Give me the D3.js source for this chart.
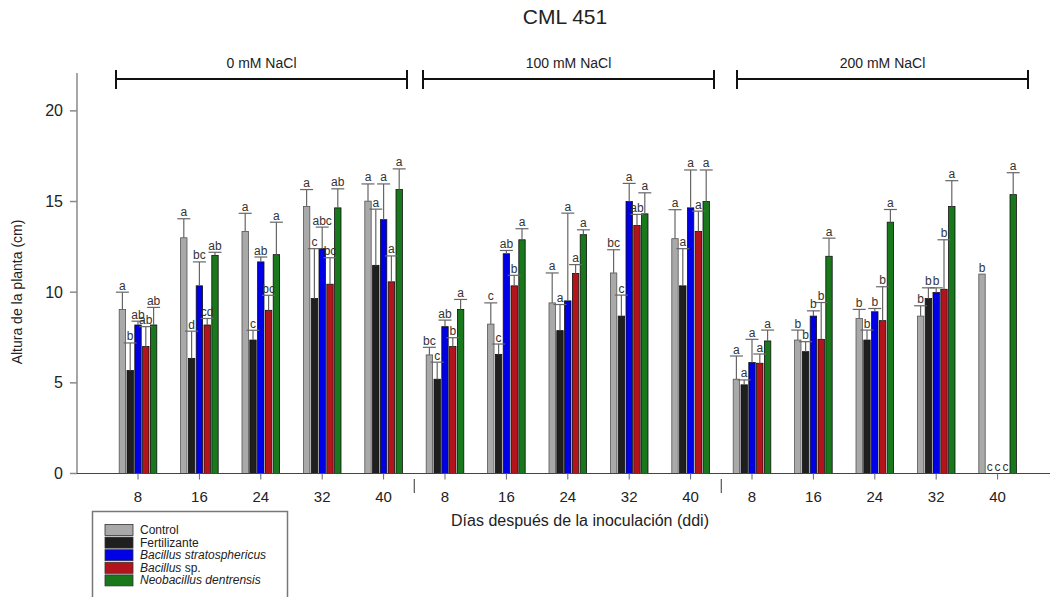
<!DOCTYPE html>
<html>
<head>
<meta charset="utf-8">
<script src="https://cdn.jsdelivr.net/npm/d3@7"></script>
<style>
  body { margin: 0; background: #fff; }
  svg { font-family: "Liberation Sans", Arial, sans-serif; }
</style>
</head>
<body>
<svg id="chart" width="1050" height="597"></svg>
<script>
// [A] Datos ------------------------------------------------------------------
const days = [8, 16, 24, 32, 40];
const salts = ["0 mM NaCl", "100 mM NaCl", "200 mM NaCl"];
const seriesNames = ["Control", "Fertilizante", "Bacillus stratosphericus", "Bacillus sp.", "Neobacillus dentrensis"];
const seriesColors = ["#a9a9a9", "#1f1f1f", "#0000e6", "#b3141b", "#18781b"];

// medias por tratamiento (0 mM x5, 100 mM x5, 200 mM x5)
const control      = [9.05, 13.0, 13.35, 14.73, 15.02,  6.54, 8.24, 9.41, 11.06, 12.95,  5.2, 7.36, 8.55, 8.68, 11.0];
const fertilizante = [5.68, 6.35, 7.36, 9.65, 11.48,  5.2, 6.57, 7.88, 8.68, 10.35,  4.89, 6.72, 7.36, 9.65, 0];
const bStrato      = [8.19, 10.35, 11.67, 12.4, 14.0,  8.1, 12.12, 9.52, 15.0, 14.65,  6.12, 8.68, 8.92, 9.98, 0];
const bSp          = [7.0, 8.19, 9.0, 10.44, 10.57,  7.0, 10.35, 11.03, 13.68, 13.35,  6.08, 7.4, 8.43, 10.16, 0];
const nDentrensis  = [8.19, 12.03, 12.07, 14.65, 15.66,  9.05, 12.89, 13.17, 14.32, 15.0,  7.31, 11.98, 13.86, 14.73, 15.38];

// barras de error (parte superior)
const errControl = [0.95, 1.05, 1.0, 0.93, 0.95,  0.42, 1.17, 1.65, 1.28, 1.6,  1.28, 0.55, 0.5, 0.57, 0];
const errFert    = [1.52, 1.5, 0.54, 2.75, 3.1,  0.94, 0.57, 1.44, 1.16, 2.05,  0.27, 0.55, 0.55, 0.59, 0];
const errStrato  = [0.21, 1.32, 0.27, 1.19, 1.97,  0.36, 0.18, 4.84, 1.0, 2.09,  1.28, 0.29, 0.18, 0.26, 0];
const errSp      = [1.1, 0.36, 0.83, 1.46, 1.43,  0.49, 0.58, 0.49, 0.61, 1.12,  0.51, 2.03, 1.87, 2.73, 0];
const errDent    = [0.97, 0.17, 1.79, 1.05, 1.14,  0.55, 0.61, 0.27, 1.16, 1.74,  0.6, 1.0, 0.7, 1.42, 1.21];

// letras de significancia
const letControl = ["a","a","a","a","a", "bc","c","a","bc","a", "a","b","b","b","b"];
const letFert    = ["b","d","c","c","a", "c","c","a","c","a", "a","b","b","b","c"];
const letStrato  = ["ab","bc","ab","abc","a", "ab","ab","a","a","a", "a","b","b","b","c"];
const letSp      = ["ab","cd","bc","bc","a", "b","b","a","ab","a", "a","b","b","b","c"];
const letDent    = ["ab","ab","a","ab","a", "a","a","a","a","a", "a","a","a","a","a"];

const yTicks = [0, 5, 10, 15, 20];

const means = [control, fertilizante, bStrato, bSp, nDentrensis];
const errs = [errControl, errFert, errStrato, errSp, errDent];
const letters = [letControl, letFert, letStrato, letSp, letDent];

// [B] Escalas ----------------------------------------------------------------
const svg = d3.select("#chart");
const x = d3.scaleLinear().domain([0, 14]).range([138, 997.6]);
const y = d3.scaleLinear().domain([0, 22]).range([473.5, 74.6]);
const barStep = 7.8, barW = 6.4;

// [C] Titulo -----------------------------------------------------------------
svg.append("text")
    .attr("x", 565).attr("y", 24)
    .attr("text-anchor", "middle")
    .attr("font-size", 21)
    .attr("fill", "#222")
    .text("CML 451");

// [D] Barras -----------------------------------------------------------------
const cells = [];
means.forEach((arr, s) => arr.forEach((v, i) => cells.push({
    s, i, v, e: errs[s][i], l: letters[s][i]
})));

const cx = d => x(d.i) + (d.s - 2) * barStep;

svg.append("g").selectAll("rect")
    .data(cells.filter(d => d.v > 0))
    .join("rect")
    .attr("x", d => cx(d) - barW / 2)
    .attr("y", d => y(d.v))
    .attr("width", barW)
    .attr("height", d => y(0) - y(d.v))
    .attr("fill", d => seriesColors[d.s])
    .attr("stroke", d => d.s === 0 ? "#555" : "#111")
    .attr("stroke-width", 0.8);

// barras de error
const eb = svg.append("g").attr("stroke", "#666").attr("stroke-width", 1.2);
cells.filter(d => d.e > 0).forEach(d => {
    eb.append("line")
        .attr("x1", cx(d)).attr("x2", cx(d))
        .attr("y1", y(d.v)).attr("y2", y(d.v + d.e));
    eb.append("line")
        .attr("x1", cx(d) - 6.5).attr("x2", cx(d) + 6.5)
        .attr("y1", y(d.v + d.e)).attr("y2", y(d.v + d.e));
});

// letras
svg.append("g").selectAll("text")
    .data(cells)
    .join("text")
    .attr("x", d => cx(d))
    .attr("y", d => y(d.v + d.e) - 2.5)
    .attr("text-anchor", "middle")
    .attr("font-size", 12)
    .attr("fill", "#333")
    .text(d => d.l);

// [E] Ejes -------------------------------------------------------------------
const axCol = "#8a8a8a";
svg.append("line")
    .attr("x1", 77).attr("x2", 77)
    .attr("y1", 73).attr("y2", y(0))
    .attr("stroke", axCol).attr("stroke-width", 1.5);
svg.append("line")
    .attr("x1", 77).attr("x2", 1050)
    .attr("y1", y(0)).attr("y2", y(0))
    .attr("stroke", "#444").attr("stroke-width", 1.2);

const yt = svg.append("g");
yTicks.forEach(t => {
    yt.append("line")
        .attr("x1", 70).attr("x2", 77)
        .attr("y1", y(t)).attr("y2", y(t))
        .attr("stroke", axCol).attr("stroke-width", 1.5);
    yt.append("text")
        .attr("x", 63).attr("y", y(t) + 5.5)
        .attr("text-anchor", "end")
        .attr("font-size", 16)
        .attr("fill", "#222")
        .text(t);
});

const xt = svg.append("g");
d3.range(15).forEach(i => {
    xt.append("line")
        .attr("x1", x(i)).attr("x2", x(i))
        .attr("y1", y(0)).attr("y2", y(0) + 6)
        .attr("stroke", "#666");
    xt.append("text")
        .attr("x", x(i)).attr("y", 502)
        .attr("text-anchor", "middle")
        .attr("font-size", 15)
        .attr("fill", "#222")
        .text(days[i % 5]);
});
// separadores entre niveles de sal
[4.5, 9.5].forEach(p => {
    xt.append("line")
        .attr("x1", x(p)).attr("x2", x(p))
        .attr("y1", 479).attr("y2", 493)
        .attr("stroke", "#555").attr("stroke-width", 1.2);
});

svg.append("text")
    .attr("x", 580).attr("y", 526)
    .attr("text-anchor", "middle")
    .attr("font-size", 16)
    .attr("fill", "#222")
    .text("Días después de la inoculación (ddi)");

svg.append("text")
    .attr("transform", "translate(22,292) rotate(-90)")
    .attr("text-anchor", "middle")
    .attr("font-size", 14)
    .attr("fill", "#222")
    .text("Altura de la planta (cm)");

// [F] Corchetes de NaCl ------------------------------------------------------
const brackets = [[116, 407], [423, 714], [737, 1028]];
const br = svg.append("g").attr("stroke", "#111").attr("stroke-width", 2);
brackets.forEach((b, g) => {
    br.append("line").attr("x1", b[0]).attr("x2", b[1]).attr("y1", 79).attr("y2", 79);
    br.append("line").attr("x1", b[0]).attr("x2", b[0]).attr("y1", 70).attr("y2", 89);
    br.append("line").attr("x1", b[1]).attr("x2", b[1]).attr("y1", 70).attr("y2", 89);
    svg.append("text")
        .attr("x", (b[0] + b[1]) / 2).attr("y", 68)
        .attr("text-anchor", "middle")
        .attr("font-size", 14)
        .attr("fill", "#222")
        .text(salts[g]);
});

// [G] Leyenda ----------------------------------------------------------------
const lg = svg.append("g");
lg.append("rect")
    .attr("x", 92.5).attr("y", 511.5)
    .attr("width", 195).attr("height", 100)
    .attr("fill", "none").attr("stroke", "#777").attr("stroke-width", 1.5);
seriesNames.forEach((n, k) => {
    const yy = 530 + k * 12.6;
    lg.append("rect")
        .attr("x", 105).attr("y", yy - 5.5)
        .attr("width", 28).attr("height", 11)
        .attr("fill", seriesColors[k])
        .attr("stroke", "#333").attr("stroke-width", 0.8);
    const t = lg.append("text")
        .attr("x", 140).attr("y", yy + 4)
        .attr("font-size", 12)
        .attr("fill", "#222");
    if (k === 3) {
        t.append("tspan").attr("font-style", "italic").text("Bacillus");
        t.append("tspan").text(" sp.");
    } else {
        t.attr("font-style", k >= 2 ? "italic" : "normal").text(n);
    }
});
</script>
</body>
</html>
